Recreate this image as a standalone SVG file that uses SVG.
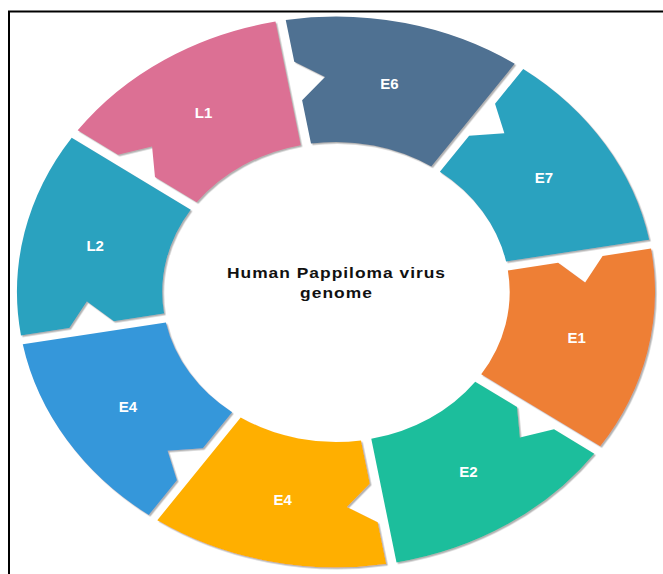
<svg xmlns="http://www.w3.org/2000/svg" width="663" height="574" viewBox="0 0 663 574">
  <defs>
    <filter id="sh" x="-10%" y="-10%" width="120%" height="120%">
      <feDropShadow dx="1.5" dy="1.5" stdDeviation="0.7" flood-color="#999999" flood-opacity="0.75"/>
    </filter>
  </defs>
  <style>
    .seg { filter: url(#sh); }
    .lbl { font-family: "Liberation Sans", Arial, sans-serif; font-weight: bold; font-size: 15px; fill: #ffffff; text-anchor: middle; }
    .ctr { font-family: "Liberation Sans", Arial, sans-serif; font-weight: bold; font-size: 15px; fill: #111111; text-anchor: middle; }
  </style>
  <rect x="0" y="0" width="663" height="574" fill="#ffffff"/>
  <rect id="frame" x="9" y="11.5" width="700" height="600" fill="none" stroke="#000000" stroke-width="2"/>

  <g id="connectors"/>

  <g id="node-E6">
    <path class="seg" fill="#4F7192" d="M 285.74 19.94 A 319.03 275.5 0 0 1 514.70 63.78 L 431.31 166.61 A 173.7 150 0 0 0 310.98 143.57 L 302.12 100.17 L 325.00 76.88 L 294.28 61.76 Z"/>
    <text class="lbl" x="389.4" y="89.3">E6</text>
  </g>
  <g id="node-E7">
    <path class="seg" fill="#2CA2BF" d="M 523.24 68.94 A 319.03 275.5 0 0 1 649.24 239.74 L 506.08 261.53 A 173.7 150 0 0 0 439.85 171.77 L 469.13 135.66 L 504.37 133.17 L 495.03 103.72 Z"/>
    <text class="lbl" x="544" y="182.8">E7</text>
  </g>
  <g id="node-E1">
    <path class="seg" fill="#EE7F35" d="M 651.04 248.60 A 319.03 275.5 0 0 1 600.29 446.31 L 481.21 374.31 A 173.7 150 0 0 0 507.88 270.39 L 558.14 262.74 L 585.11 282.50 L 602.62 255.97 Z"/>
    <text class="lbl" x="576.8" y="343.4">E1</text>
  </g>
  <g id="node-E2">
    <path class="seg" fill="#1DBE9C" d="M 594.31 453.69 A 319.03 275.5 0 0 1 396.52 562.50 L 371.28 438.87 A 173.7 150 0 0 0 475.23 381.69 L 517.03 406.96 L 519.92 437.40 L 554.03 429.33 Z"/>
    <text class="lbl" x="468.5" y="476.9">E2</text>
  </g>
  <g id="node-E4-yellow">
    <path class="seg" fill="#FFAF00" d="M 386.26 564.06 A 319.03 275.5 0 0 1 157.30 520.22 L 240.69 417.39 A 173.7 150 0 0 0 361.02 440.43 L 369.88 483.83 L 347.00 507.12 L 377.72 522.24 Z"/>
    <text class="lbl" x="282.6" y="505.3">E4</text>
  </g>
  <g id="node-E4-blue">
    <path class="seg" fill="#3697DA" d="M 148.76 515.06 A 319.03 275.5 0 0 1 22.76 344.26 L 165.92 322.47 A 173.7 150 0 0 0 232.15 412.23 L 202.87 448.34 L 167.63 450.83 L 176.97 480.28 Z"/>
    <text class="lbl" x="128" y="411.7">E4</text>
  </g>
  <g id="node-L2">
    <path class="seg" fill="#2CA2BF" d="M 20.96 335.40 A 319.03 275.5 0 0 1 71.71 137.69 L 190.79 209.69 A 173.7 150 0 0 0 164.12 313.61 L 113.86 321.26 L 86.89 301.50 L 69.38 328.03 Z"/>
    <text class="lbl" x="95.2" y="251.2">L2</text>
  </g>
  <g id="node-L1">
    <path class="seg" fill="#DC7094" d="M 77.69 130.31 A 319.03 275.5 0 0 1 275.48 21.50 L 300.72 145.13 A 173.7 150 0 0 0 196.77 202.31 L 154.97 177.04 L 152.08 146.60 L 117.97 154.67 Z"/>
    <text class="lbl" x="203.5" y="117.7">L1</text>
  </g>

  <g id="node-center" transform="translate(336 0) scale(1.16 1)">
    <text class="ctr" x="0" y="278.3" textLength="188" lengthAdjust="spacing">Human Pappiloma virus</text>
    <text class="ctr" x="0" y="298.3" textLength="62" lengthAdjust="spacing">genome</text>
  </g>
</svg>
